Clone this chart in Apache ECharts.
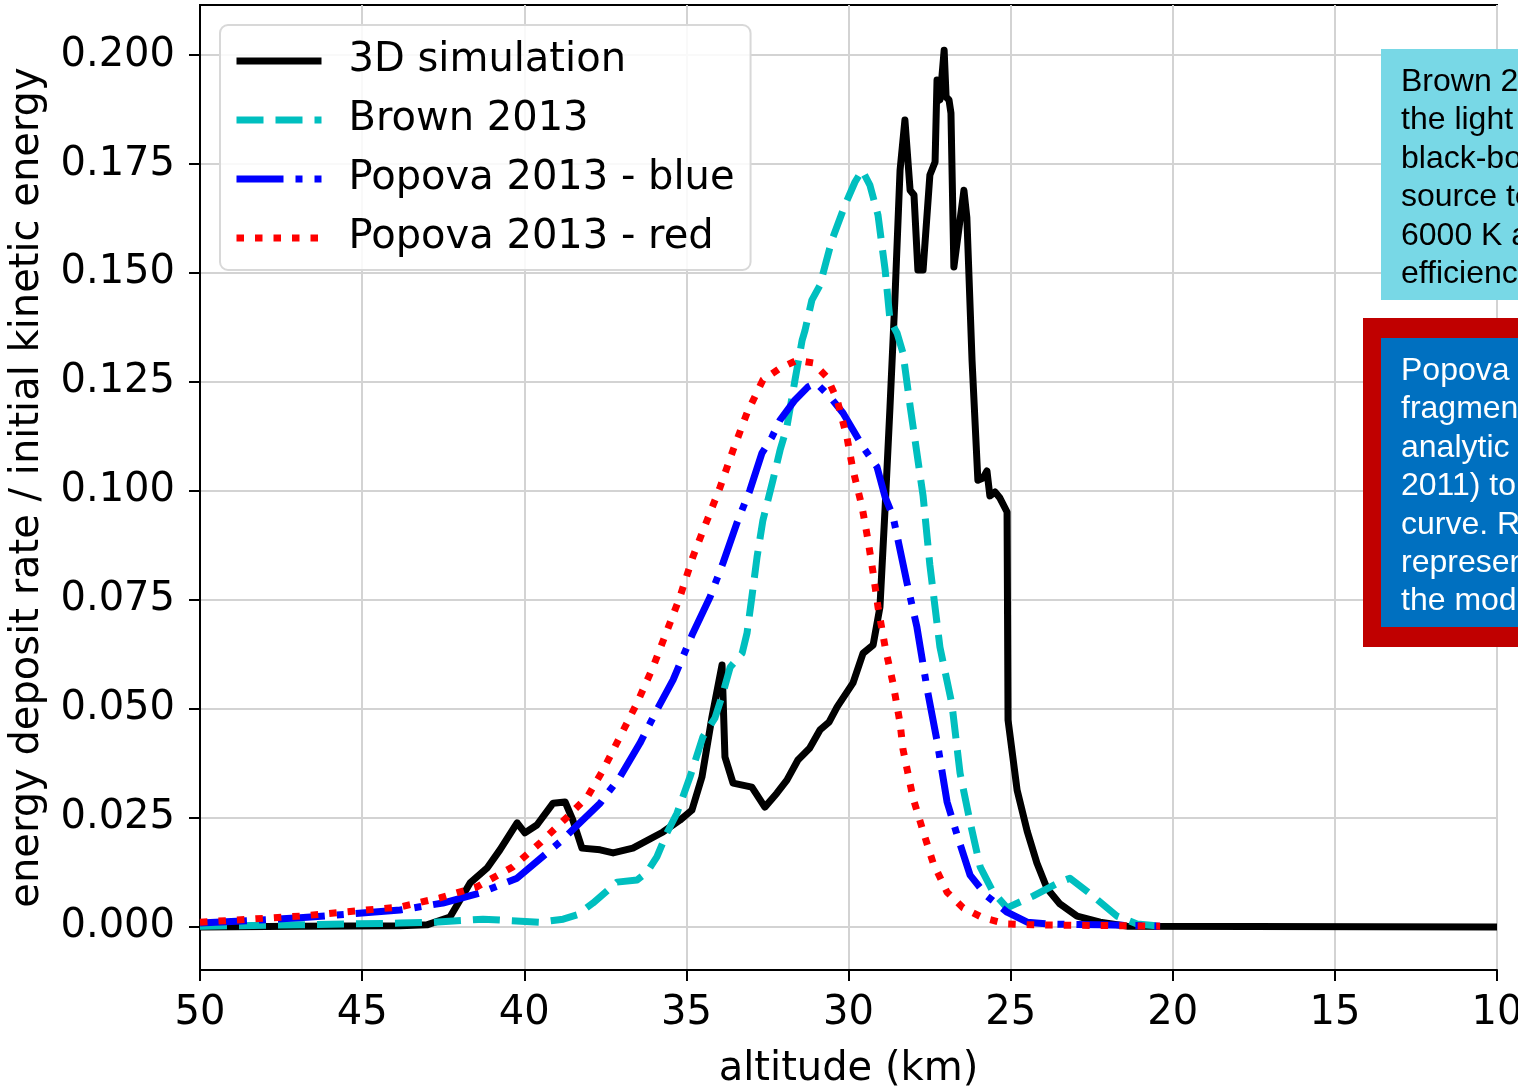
<!DOCTYPE html>
<html>
<head>
<meta charset="utf-8">
<script src="https://cdn.jsdelivr.net/npm/echarts@6/dist/echarts.min.js"></script>
<style>html,body{margin:0;padding:0;background:#fff;}#c{width:1518px;height:1088px;}</style>
</head>
<body>
<div id="c"></div>
<script>
// altitude (km) ticks and y tick values
const xTicks = [50, 45, 40, 35, 30, 25, 20, 15, 10];
const yTicks = [0, 0.025, 0.05, 0.075, 0.1, 0.125, 0.15, 0.175, 0.2];
const seriesNames = ['3D simulation', 'Brown 2013', 'Popova 2013 - blue', 'Popova 2013 - red'];

// 3D simulation: [altitude km, energy deposit rate / initial KE]
const simData = [
  [50,0],[46.92,0.0002],[43.83,0.0003],[43.0,0.0005],[42.29,0.0023],[41.67,0.0101],[41.15,0.0135],
  [40.75,0.0177],[40.22,0.0239],[39.98,0.0216],[39.61,0.0234],[39.11,0.0284],[38.74,0.0287],
  [38.50,0.0245],[38.22,0.0181],[37.66,0.0177],[37.26,0.0170],[36.65,0.0181],[35.72,0.0218],
  [35.20,0.0245],[34.83,0.0268],[34.52,0.0344],[34.21,0.0482],[33.90,0.0601],[33.81,0.0390],
  [33.56,0.0330],[32.98,0.0321],[32.58,0.0275],[32.21,0.0307],[31.90,0.0337],[31.56,0.0383],
  [31.20,0.0410],[30.88,0.0452],[30.60,0.0470],[30.35,0.0505],[29.86,0.0560],[29.55,0.0628],
  [29.24,0.0647],[29.03,0.0734],
  [28.87,0.0963],[28.72,0.1193],[28.57,0.1438],[28.41,0.1736],[28.26,0.1851],[28.10,0.1690],
  [27.98,0.1679],[27.86,0.1507],[27.70,0.1507],[27.49,0.1725],[27.33,0.1755],[27.27,0.1943],
  [27.18,0.1897],[27.05,0.2011],[26.99,0.1904],[26.90,0.1897],[26.84,0.1867],[26.75,0.1514],
  [26.44,0.1690],[26.35,0.1628],[26.19,0.1300],[26.01,0.1025],[25.85,0.1030],[25.73,0.1046],
  [25.64,0.0989],[25.48,0.0998],[25.33,0.0984],[25.11,0.0952],[25.08,0.0475],[24.80,0.0314],
  [24.49,0.0220],[24.19,0.0147],[23.88,0.0089],[23.48,0.0053],[22.95,0.0025],[22.24,0.0011],
  [21.41,0.0002],[10,0]
];

// Brown 2013
const brownData = [
  [50,0.0002],[46.92,0.0005],[43.83,0.0009],[42.81,0.0011],[41.27,0.0018],[39.51,0.0011],
  [38.80,0.0018],[38.37,0.0028],[37.88,0.0055],[37.14,0.0103],[36.52,0.0108],[36.21,0.0126],
  [35.91,0.0161],[35.60,0.0216],[35.29,0.0261],[34.89,0.0344],[34.49,0.0436],[34.12,0.0479],
  [33.87,0.0537],[33.65,0.0596],[33.28,0.0628],[33.13,0.0674],[32.98,0.0757],[32.82,0.0849],
  [32.64,0.0933],[32.33,0.1025],[32.11,0.1094],[31.90,0.1147],[31.65,0.1255],[31.43,0.1346],
  [31.34,0.1369],[31.13,0.1438],[30.88,0.1472],[30.72,0.1518],[30.51,0.1576],[30.11,0.1656],
  [29.80,0.1709],[29.58,0.1736],[29.34,0.1702],[29.09,0.1633],[28.87,0.1507],[28.72,0.1392],
  [28.50,0.1362],[28.32,0.1317],[28.10,0.1195],[27.70,0.0989],[27.49,0.0830],[27.18,0.0642],
  [26.81,0.0511],[26.56,0.0353],[26.25,0.0241],[25.94,0.0138],[25.54,0.0080],[25.11,0.0044],
  [24.31,0.0071],[23.48,0.0103],[23.17,0.0112],[22.46,0.0071],[21.72,0.0025],[21.10,0.0007],
  [20.39,0.0002]
];

// Popova 2013 - blue
const popovaBlueData = [
  [50,0.0009],[46.92,0.0021],[43.83,0.0039],[42.51,0.0055],[41.36,0.0078],[40.22,0.0112],
  [38.90,0.0195],[37.66,0.0284],[37.05,0.0344],[36.43,0.0422],[35.91,0.0498],[35.41,0.0567],
  [34.80,0.0674],[34.27,0.0757],[33.87,0.0835],[33.44,0.0927],[33.04,0.1002],[32.67,0.1087],
  [32.36,0.1124],[32.11,0.1163],[31.65,0.1209],[31.25,0.1239],[31.00,0.1248],[30.57,0.1216],
  [30.17,0.1179],[29.86,0.1140],[29.55,0.1101],[29.12,0.1055],[28.87,0.0986],[28.63,0.0943],
  [28.20,0.0791],[27.89,0.0688],[27.58,0.0548],[27.27,0.0427],[26.96,0.0287],[26.65,0.0211],
  [26.25,0.0119],[25.73,0.0071],[25.11,0.0034],[24.49,0.0011],[23.88,0.0007],[22.24,0.0005],
  [20.39,0.0002]
];

// Popova 2013 - red
const popovaRedData = [
  [50,0.0011],[46.92,0.0025],[43.83,0.0046],[42.60,0.0067],[41.46,0.0092],[40.35,0.0138],
  [39.51,0.0193],[38.68,0.0252],[38.06,0.0298],[37.57,0.0360],[37.05,0.0436],[36.52,0.0514],
  [36.03,0.0596],[35.20,0.0757],[34.80,0.0849],[34.36,0.0933],[33.96,0.1009],[33.56,0.1094],
  [33.13,0.1179],[32.64,0.1255],[32.11,0.1282],[31.59,0.1300],[31.09,0.1294],[30.66,0.1261],
  [30.35,0.1209],[30.05,0.1124],[29.86,0.1048],[29.58,0.0963],[29.40,0.0888],[29.24,0.0812],
  [29.09,0.0734],[28.87,0.0642],[28.63,0.0560],[28.41,0.0468],[28.32,0.0408],[28.01,0.0296],
  [27.70,0.0220],[27.39,0.0147],[26.96,0.0080],[26.47,0.0044],[25.85,0.0021],[25.11,0.0007],
  [24.31,0.0005],[20.39,0.0002]
];

const brownNote = ['Brown 2013 converted', 'the light curve using a', 'black-body radiating', 'source temperature of', '6000 K and a luminous', 'efficiency model.'];
const popovaNote = ['Popova 2013 used a', 'fragmentation model (the', 'analytic model of ReVelle', '2011) to fit the light', 'curve. Red and blue', 'represent two fits of', 'the model.'];

const FONT = 'DejaVu Sans';
const chart = echarts.init(document.getElementById('c'), null, {renderer: 'canvas'});

function lineSeries(name, data, color, width, type) {
  return {
    name: name, type: 'line', data: data, symbol: 'none', showSymbol: false,
    smooth: false, animation: false, clip: true,
    lineStyle: {color: color, width: width, type: type, cap: 'butt', join: 'round'},
    itemStyle: {color: color},
    emphasis: {disabled: true}
  };
}

const option = {
  animation: false,
  backgroundColor: '#ffffff',
  grid: {left: 200, right: 21, top: 5, bottom: 118, outerBoundsMode: 'none', containLabel: false,
         show: true, borderColor: '#000', borderWidth: 2, backgroundColor: 'transparent'},
  legend: {
    orient: 'vertical', left: 220, top: 25,
    data: seriesNames,
    itemWidth: 85, itemHeight: 44, itemGap: 15,
    padding: [14, 16, 10, 13],
    backgroundColor: 'rgba(255,255,255,0.85)',
    borderColor: '#d8d8d8', borderWidth: 2, borderRadius: 8,
    itemStyle: {opacity: 0, borderWidth: 0},
    lineStyle: {width: 7},
    textStyle: {fontFamily: FONT, fontSize: 40, color: '#000', lineHeight: 44, padding: [0, 0, 0, 22]},
    selectedMode: false
  },
  xAxis: {
    type: 'value', min: 10, max: 50, interval: 5, inverse: true,
    name: 'altitude (km)', nameLocation: 'middle', nameGap: 80,
    nameTextStyle: {fontFamily: FONT, fontSize: 40, color: '#000'},
    axisLine: {show: true, onZero: false, lineStyle: {color: '#000', width: 2}},
    axisTick: {show: true, length: 11, lineStyle: {color: '#000', width: 2}},
    axisLabel: {fontFamily: FONT, fontSize: 40, color: '#000', margin: 24, formatter: v => String(v)},
    splitLine: {show: true, lineStyle: {color: '#d3d3d3', width: 2}}
  },
  yAxis: {
    type: 'value', min: -0.00986, max: 0.2115,
    name: 'energy deposit rate / initial kinetic energy', nameLocation: 'middle', nameGap: 152,
    nameTextStyle: {fontFamily: FONT, fontSize: 40, color: '#000'},
    axisLine: {show: true, onZero: false, lineStyle: {color: '#000', width: 2}},
    axisTick: {show: true, length: 11, customValues: yTicks, lineStyle: {color: '#000', width: 2}},
    axisLabel: {fontFamily: FONT, fontSize: 40, color: '#000', margin: 25, padding: [12, 0, 0, 0], customValues: yTicks, formatter: v => v.toFixed(3)},
    splitLine: {show: true, lineStyle: {color: '#d3d3d3', width: 2}}
  },
  series: [
    lineSeries(seriesNames[0], simData, '#000000', 7, 'solid'),
    lineSeries(seriesNames[1], brownData, '#00bfbf', 7, [27, 12]),
    lineSeries(seriesNames[2], popovaBlueData, '#0000ff', 7, [47, 12, 7, 12]),
    lineSeries(seriesNames[3], popovaRedData, '#ff0000', 7, [7.5, 11])
  ],
  graphic: [
    {type: 'rect', z: 100, shape: {x: 1381, y: 49, width: 170, height: 251}, style: {fill: '#78d8e6'}},
    {type: 'text', z: 101, x: 1401, y: 63, style: {text: brownNote.join('\n'), font: '32px "Liberation Sans"', fill: '#000', lineHeight: 38.4}},
    {type: 'rect', z: 100, shape: {x: 1363, y: 318, width: 190, height: 329}, style: {fill: '#c00000'}},
    {type: 'rect', z: 100, shape: {x: 1381, y: 338, width: 170, height: 289}, style: {fill: '#0070c0'}},
    {type: 'text', z: 101, x: 1401, y: 352, style: {text: popovaNote.join('\n'), font: '32px "Liberation Sans"', fill: '#fff', lineHeight: 38.4}}
  ]
};
chart.setOption(option);
</script>
</body>
</html>
